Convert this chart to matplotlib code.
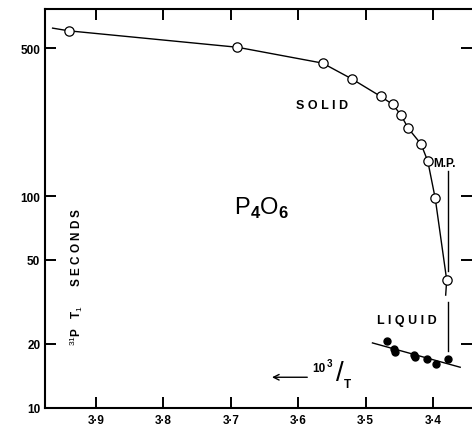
import matplotlib
matplotlib.use('Agg')
import matplotlib.pyplot as plt
from matplotlib.ticker import FixedLocator, NullLocator

plt.rcParams['font.family'] = ['Liberation Sans', 'DejaVu Sans']
plt.rcParams['mathtext.fontset'] = 'custom'
plt.rcParams['mathtext.rm'] = 'Liberation Sans'
plt.rcParams['mathtext.bf'] = 'Liberation Sans:bold'

# solid phase, open circles (10^3/T, T1 in seconds)
solid_x = [3.940, 3.690, 3.564, 3.520, 3.478, 3.460, 3.448, 3.437, 3.418, 3.408, 3.397, 3.380]
solid_t1 = [604, 505, 425, 357, 296, 271, 242, 209, 176, 146, 97.5, 40.1]

# hand drawn curve through the solid points, with its two loose ends
curve_x = [3.964] + solid_x + [3.3815]
curve_t1 = [622] + solid_t1 + [34]

# liquid phase, filled dots
liquid_x = [3.468, 3.458, 3.457, 3.428, 3.427, 3.409, 3.396, 3.378]
liquid_t1 = [20.7, 19.0, 18.3, 17.7, 17.3, 16.9, 16.1, 16.9]

# straight line through the liquid points
fit_x = [3.490, 3.360]
fit_t1 = [20.2, 15.5]

# melting point marker
mp_x = 3.378
mp_upper = [131, 44.2]
mp_lower = [31.5, 18.6]

x_ticks = [3.9, 3.8, 3.7, 3.6, 3.5, 3.4]
x_labels = ['3·9', '3·8', '3·7', '3·6', '3·5', '3·4']
y_ticks = [10, 20, 50, 100, 500]
y_labels = ['10', '20', '50', '100', '500']

fig = plt.figure(figsize=(4.72, 4.27), dpi=100)
ax = fig.add_axes([44.5 / 472, 18.5 / 427, 427.5 / 472, 398.5 / 427])

ax.plot(curve_x, curve_t1, color='black', lw=1.0, zorder=2)
ax.plot(solid_x, solid_t1, 'o', ms=6.7, mfc='white', mec='black', mew=0.9, zorder=3)
ax.plot(fit_x, fit_t1, color='black', lw=1.0, zorder=2)
ax.plot(liquid_x, liquid_t1, 'o', ms=5.0, color='black', zorder=3)
ax.plot([mp_x, mp_x], mp_upper, color='black', lw=1.0)
ax.plot([mp_x, mp_x], mp_lower, color='black', lw=1.0)

ax.set_yscale('log')
ax.set_xlim(3.976, 3.3425)
ax.set_ylim(10, 766)

ax.xaxis.set_major_locator(FixedLocator(x_ticks))
ax.xaxis.set_minor_locator(NullLocator())
ax.set_xticklabels(x_labels)
ax.yaxis.set_major_locator(FixedLocator(y_ticks))
ax.yaxis.set_minor_locator(NullLocator())
ax.set_yticklabels(y_labels)

ax.tick_params(which='major', direction='in', length=8, width=1.4,
               top=True, right=True, labelsize=8.5)
ax.tick_params(axis='x', pad=5)
ax.tick_params(axis='y', pad=3)
for lbl in ax.get_xticklabels() + ax.get_yticklabels():
    lbl.set_fontweight('bold')

for side in ['left', 'bottom', 'top']:
    ax.spines[side].set_linewidth(1.5)
ax.spines['right'].set_visible(False)

ax.text(3.565, 269, 'S O L I D', fontsize=9, fontweight='bold', ha='center', va='center')
ax.text(3.4384, 25.9, 'L I Q U I D', fontsize=9, fontweight='bold', ha='center', va='center')
ax.text(3.4003, 143, 'M.P.', fontsize=8.5, fontweight='bold', ha='left', va='center')
ax.text(3.654, 88.7, r'P$_{\mathbf{4}}$O$_{\mathbf{6}}$', fontsize=17, ha='center', va='center')

ax.annotate('', xy=(3.643, 13.9), xytext=(3.5825, 13.9),
            arrowprops=dict(arrowstyle='->', color='black', lw=1.0))
ax.text(3.570, 15.4, '10', fontsize=8.5, fontweight='bold', ha='center', va='center')
ax.text(3.554, 16.3, '3', fontsize=7, fontweight='bold', ha='center', va='center')
ax.text(3.539, 14.5, '/', fontsize=20, fontweight='light', ha='center', va='center')
ax.text(3.527, 12.9, 'T', fontsize=8.5, fontweight='bold', ha='center', va='center')

ax.text(0.0737, 0.33, r'$^{31}$P   T$_{1}$      S E C O N D S', transform=ax.transAxes,
        rotation=90, fontsize=8.5, fontweight='bold', ha='center', va='center')

fig.savefig('out.png', dpi=100)
